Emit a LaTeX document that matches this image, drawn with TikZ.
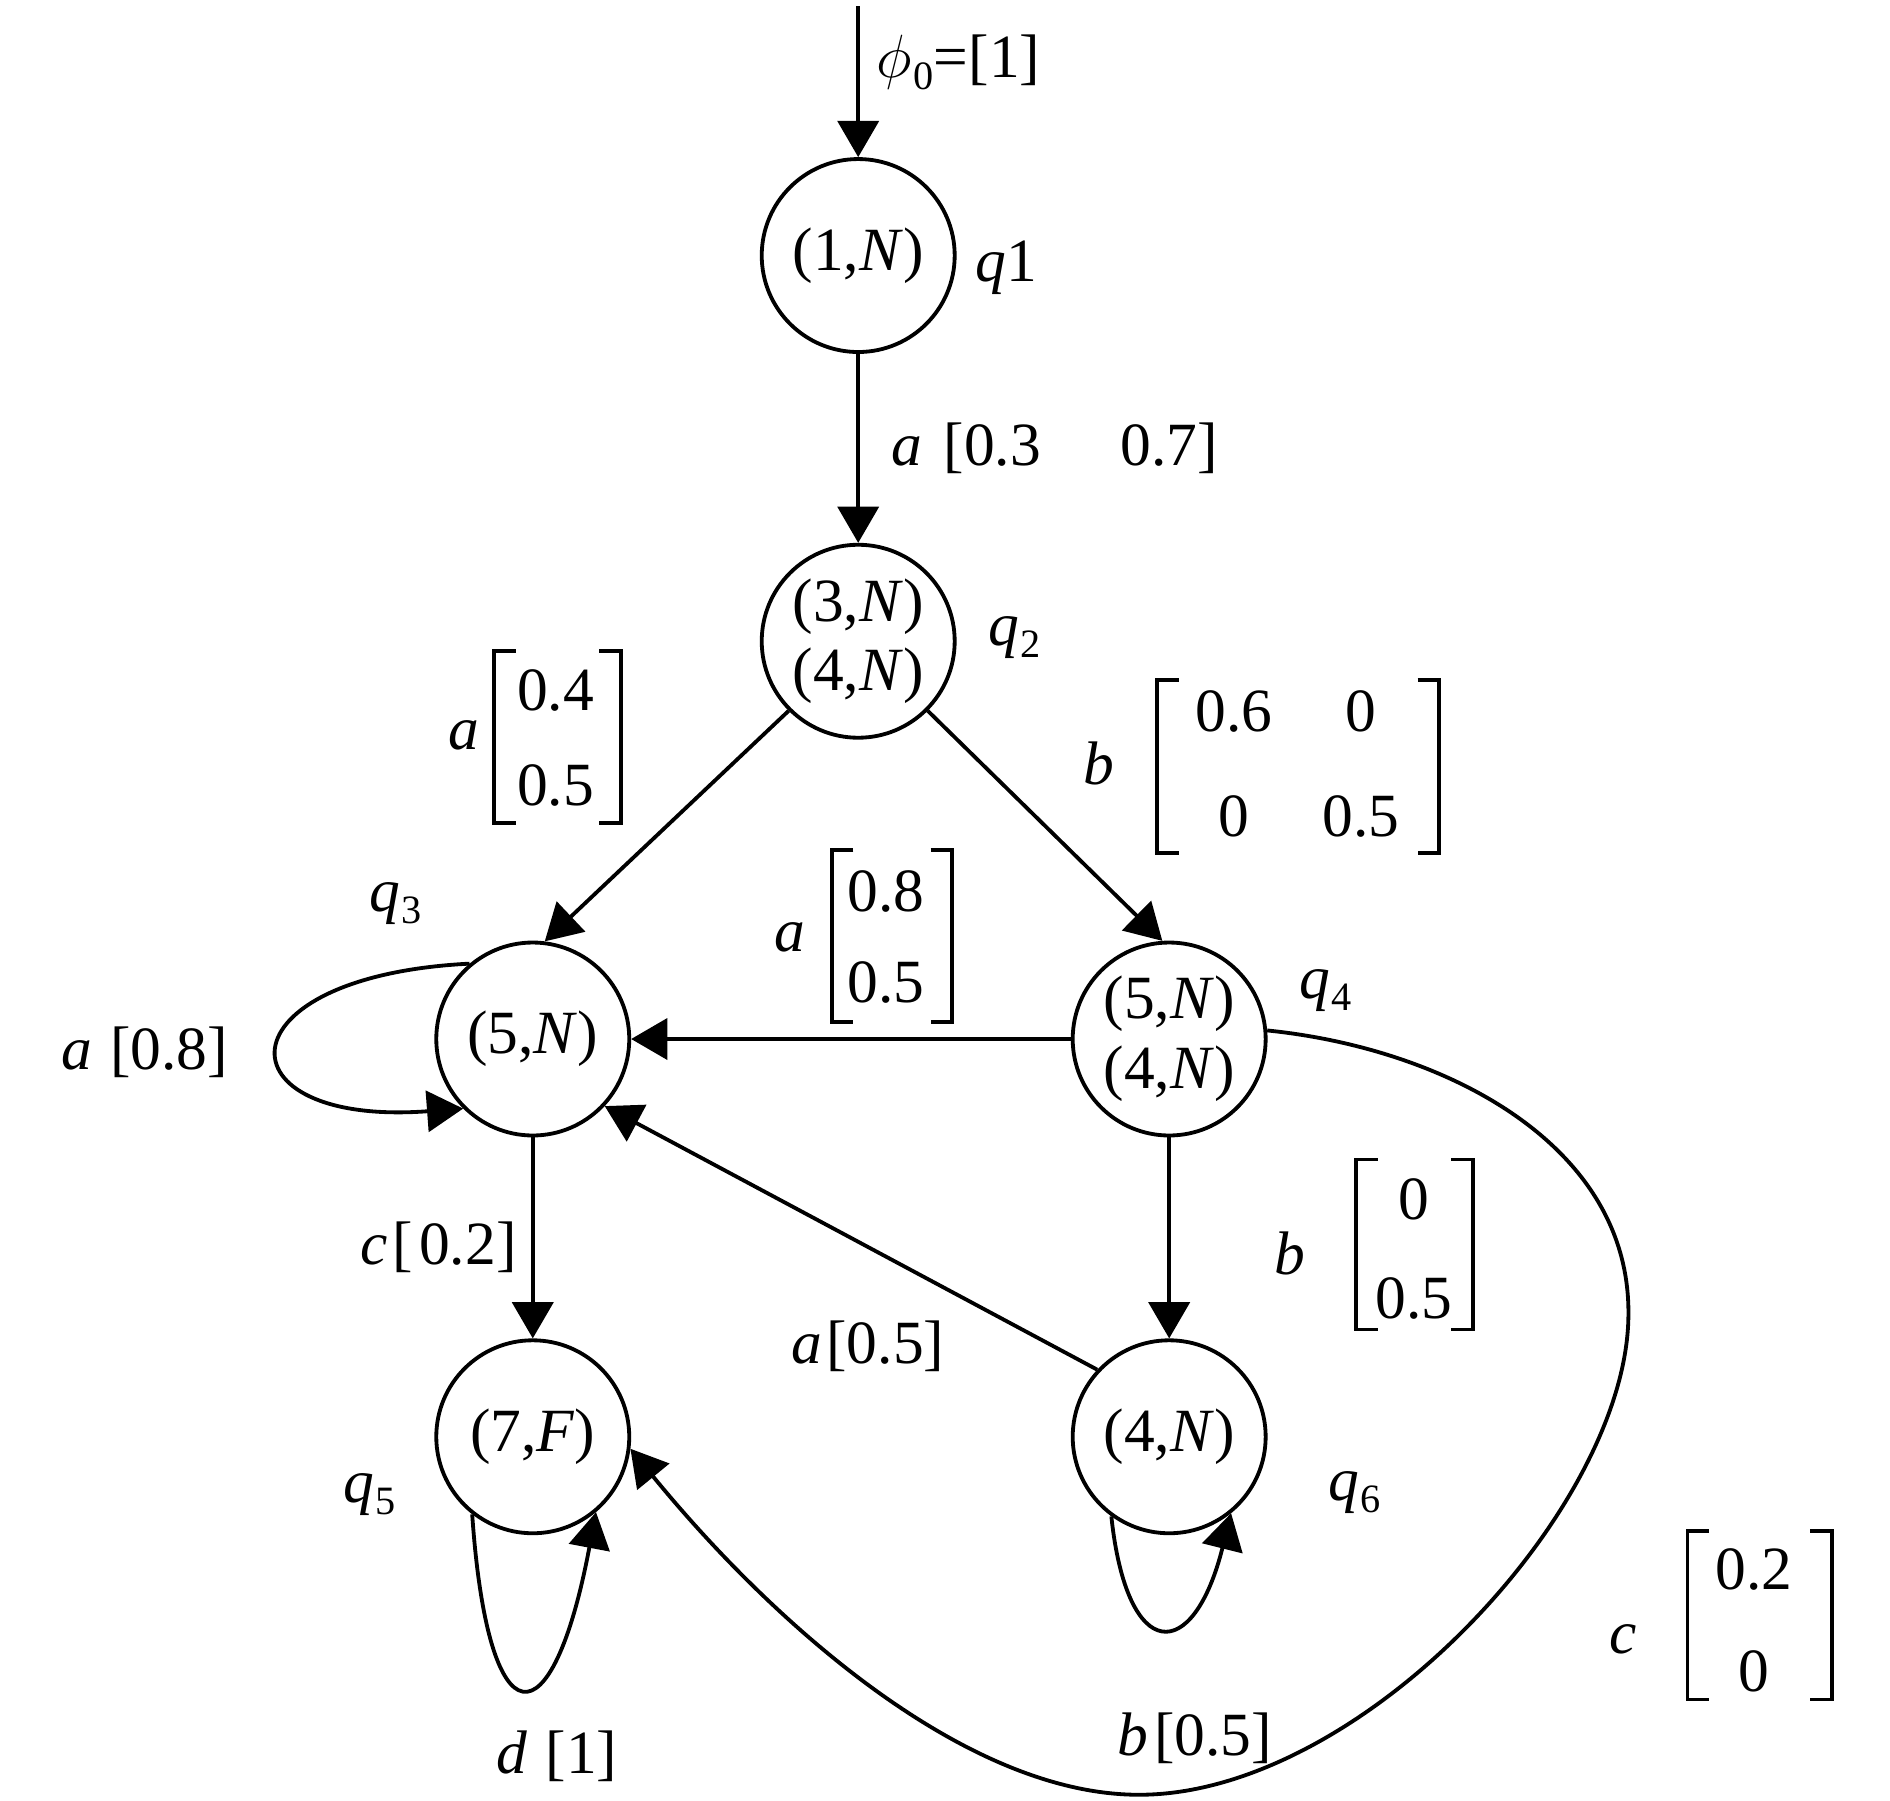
\documentclass[tikz,border=0pt]{standalone}
\usepackage{fontspec}
\setmainfont{Liberation Serif}
\usetikzlibrary{arrows.meta}
\newcommand\subq[1]{\textit{q}\kern0.3pt\raisebox{-2.8pt}{\fontsize{9.5}{9.5}\selectfont #1}}
\newcommand\mybrk[4]{%
  \draw[brk] (#1+18,#3) -- (#1,#3) -- (#1,#4) -- (#1+18,#4);
  \draw[brk] (#2-18,#3) -- (#2,#3) -- (#2,#4) -- (#2-18,#4);}
\begin{document}
\begin{tikzpicture}[x=0.01cm,y=-0.01cm,line width=0.9pt,
  font=\fontsize{14.5}{16.5}\selectfont,
  state/.style={circle,draw,minimum size=1.6cm,inner sep=0pt,align=center},
  arr/.style={-{Triangle[length=0.3cm,width=0.34cm]}},
  lbl/.style={inner sep=0pt,anchor=center},
  brk/.style={line width=0.9pt,line join=miter}]
\useasboundingbox (0,0) rectangle (1568,1494);

% states
\node[state] (q1) at (712,212) {(1,\textit{N})};
\node[state] (q2) at (712,532) {(3,\textit{N})\\(4,\textit{N})};
\node[state] (q3) at (442,862) {(5,\textit{N})};
\node[state] (q4) at (970,862) {(5,\textit{N})\\(4,\textit{N})};
\node[state] (q5) at (442,1192) {(7,\textit{F})};
\node[state] (q6) at (970,1192) {(4,\textit{N})};

% state labels
\node[lbl] (lq1) at (835,222) {\textit{q}1};
\node[lbl] (lq2) at (842,529) {\subq{2}};
\node[lbl] (lq3) at (328,750) {\subq{3}};
\node[lbl] (lq4) at (1100,822) {\subq{4}};
\node[lbl] (lq5) at (307,1240) {\subq{5}};
\node[lbl] (lq6) at (1124,1238) {\subq{6}};

% initial arrow
\coordinate (init) at (712,5);
\draw[arr] (init) -- (q1.north);
\node[lbl] (lphi) at (795,52) {$\phi$\kern0.5pt\raisebox{-2.8pt}{\fontsize{9.5}{9.5}\selectfont 0}=[1]};

% edges
\draw[arr] (q1.south) -- (q2.north);
\node[lbl] (la1) at (875,372) {\textit{a}\hspace{0.35em}[0.3\hspace{1.3em}0.7]};

\draw[arr] (q2.-135) -- (q3.83);
\node[lbl] (lA1a) at (385,610) {\textit{a}};
\node[lbl] (lA1r1) at (461,573) {0.4};
\node[lbl] (lA1r2) at (461,652) {0.5};
\mybrk{410}{515}{540}{683}

\draw[arr] (q2.-45) -- (q4.94);
\node[lbl] (lB1b) at (912,633) {\textit{b}};
\node[lbl] (lB1a) at (1024,590) {0.6};
\node[lbl] (lB1b2) at (1129,590) {0};
\node[lbl] (lB1c) at (1024,677) {0};
\node[lbl] (lB1d) at (1129,677) {0.5};
\mybrk{960}{1194}{564}{708}

\draw[arr] (q4.west) -- (q3.east);
\node[lbl] (lA2a) at (655,778) {\textit{a}};
\node[lbl] (lA2r1) at (735,740) {0.8};
\node[lbl] (lA2r2) at (735,815) {0.5};
\mybrk{690}{790}{705}{848}

% q3 self loop
\draw[arr] (q3.130) .. controls (180,810) and (180,935) .. (q3.-135);
\node[lbl] (la3) at (120,873) {\textit{a}\hspace{0.3em}[0.8]};

\draw[arr] (q3.south) -- (q5.north);
\node[lbl] (lc1) at (364,1035) {\textit{c}\kern1pt[\kern1.5pt0.2]};

\draw[arr] (q6.137) -- (q3.-43);
\node[lbl] (la4) at (720,1117) {\textit{a}\kern1pt[0.5]};

\draw[arr] (q4.south) -- (q6.north);
\node[lbl] (lB2b) at (1070,1040) {\textit{b}};
\node[lbl] (lB2r1) at (1173,995) {0};
\node[lbl] (lB2r2) at (1173,1077) {0.5};
\mybrk{1125}{1222}{962}{1103}

% q5 self loop
\draw[arr] (q5.-128) .. controls (405,1448) and (458,1448) .. (q5.-50);
\node[lbl] (ld) at (462,1457) {\textit{d}\hspace{0.3em}[1]};

% q6 self loop
\draw[arr] (q6.-126) .. controls (935,1381) and (990,1381) .. (q6.-51);
\node[lbl] (lb5) at (991,1442) {\textit{b}\kern1.5pt[0.5]};

% big curve q4 -> q5
\draw[arr] (q4.5) .. controls (1200,870) and (1352,950) .. (1351,1090)
  .. controls (1351,1250) and (1130,1489) .. (945,1489)
  .. controls (800,1489) and (640,1345) .. (q5.-7);
\node[lbl] (lCc) at (1347,1360) {\textit{c}};
\node[lbl] (lCr1) at (1455,1302) {0.2};
\node[lbl] (lCr2) at (1455,1387) {0};
\mybrk{1400}{1520}{1270}{1410}
\end{tikzpicture}
\end{document}
